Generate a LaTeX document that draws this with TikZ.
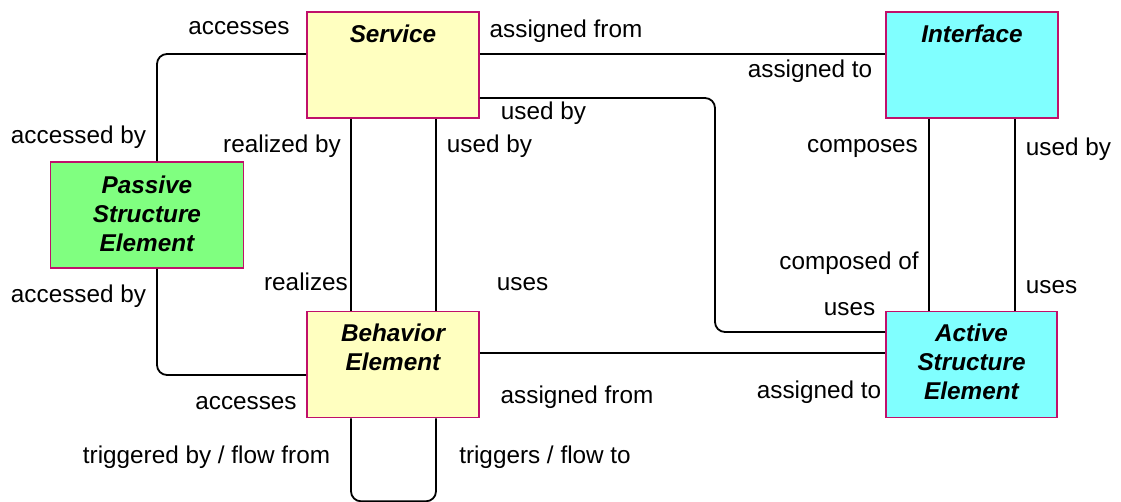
\documentclass[tikz,border=0pt]{standalone}
\usepackage{fontspec}
\setmainfont{Liberation Sans}
\begin{document}
\begin{tikzpicture}[x=1pt,y=-1pt,
  conn/.style={draw=black,line width=1.8pt,rounded corners=10pt},
  elem/.style={draw={rgb,255:red,192;green,16;blue,106},line width=1.6pt,minimum width=#1,minimum height=106pt,inner sep=0pt},
  elem/.default=172pt,
  title/.style={font=\fontsize{24.3}{29}\selectfont\bfseries\itshape,align=center,inner sep=0pt,anchor=north},
  lab/.style={font=\fontsize{24.3}{29}\selectfont,inner sep=0pt,anchor=base,yshift=-1pt}]
\useasboundingbox (0,0) rectangle (1121,502);
\definecolor{svcfill}{RGB}{255,255,192}
\definecolor{ifcfill}{RGB}{128,255,255}
\definecolor{psvfill}{RGB}{128,255,128}
% boxes
\node[elem,fill=svcfill] (service) at (393,65) {};
\node[elem,fill=ifcfill] (interface) at (972,65) {};
\node[elem=193pt,fill=psvfill] (passive) at (147,215) {};
\node[elem,fill=svcfill] (behavior) at (393,364.5) {};
\node[elem=171pt,fill=ifcfill] (active) at (971.5,364.5) {};
\node[title] (tservice) at ([yshift=-13pt]service.north) {Service};
\node[title] (tinterface) at ([yshift=-13pt]interface.north) {Interface};
\node[title] (tpassive) at ([yshift=-14pt]passive.north) {Passive\\Structure\\Element};
\node[title] (tbehavior) at ([yshift=-13pt]behavior.north) {Behavior\\Element};
\node[title] (tactive) at ([yshift=-13pt]active.north) {Active\\Structure\\Element};
% connectors
\coordinate (bend) at (715,200);
\draw[conn] ([yshift=11pt]service.west) -| ([xshift=10pt]passive.north);
\draw[conn] ([xshift=10pt]passive.south) |- ([yshift=-10.5pt]behavior.west);
\draw[conn] ([xshift=-42pt]service.south) -- ([xshift=-42pt]behavior.north);
\draw[conn] ([xshift=43pt]service.south) -- ([xshift=43pt]behavior.north);
\draw[conn] ([xshift=-42pt]behavior.south) -- ++(0,-83pt) -| ([xshift=43pt]behavior.south);
\draw[conn] ([yshift=11pt]service.east) -- ([yshift=11pt]interface.west);
\draw[conn] ([yshift=-33pt]service.east) -| (bend) |- ([yshift=32.5pt]active.west);
\draw[conn] ([yshift=11.5pt]behavior.east) -- ([yshift=11.5pt]active.west);
\draw[conn] ([xshift=-43pt]interface.south) -- ([xshift=-43pt]interface.south |- active.north);
\draw[conn] ([xshift=43pt]interface.south) -- ([xshift=43pt]interface.south |- active.north);
% labels
\node[lab] (l1) at (239,34) {accesses};
\node[lab] (l2) at (566,37) {assigned from};
\node[lab] (l3) at (810,77) {assigned to};
\node[lab] (l4) at (543.5,119) {used by};
\node[lab] (l5) at (78.5,143) {accessed by};
\node[lab] (l6) at (282,152) {realized by};
\node[lab] (l7) at (489.5,152) {used by};
\node[lab] (l8) at (862.5,152) {composes};
\node[lab] (l9) at (1068.5,155) {used by};
\node[lab] (l10) at (849,269) {composed of};
\node[lab] (l11) at (849.5,315) {uses};
\node[lab] (l12) at (1051.5,293) {uses};
\node[lab] (l13) at (306,290) {realizes};
\node[lab] (l14) at (522.5,290) {uses};
\node[lab] (l15) at (78.5,302) {accessed by};
\node[lab] (l16) at (246,408) {accesses};
\node[lab] (l17) at (577,402) {assigned from};
\node[lab] (l18) at (819,397) {assigned to};
\node[lab] (l19) at (206.5,462) {triggered by / flow from};
\node[lab] (l20) at (545,462) {triggers / flow to};
\end{tikzpicture}
\end{document}
